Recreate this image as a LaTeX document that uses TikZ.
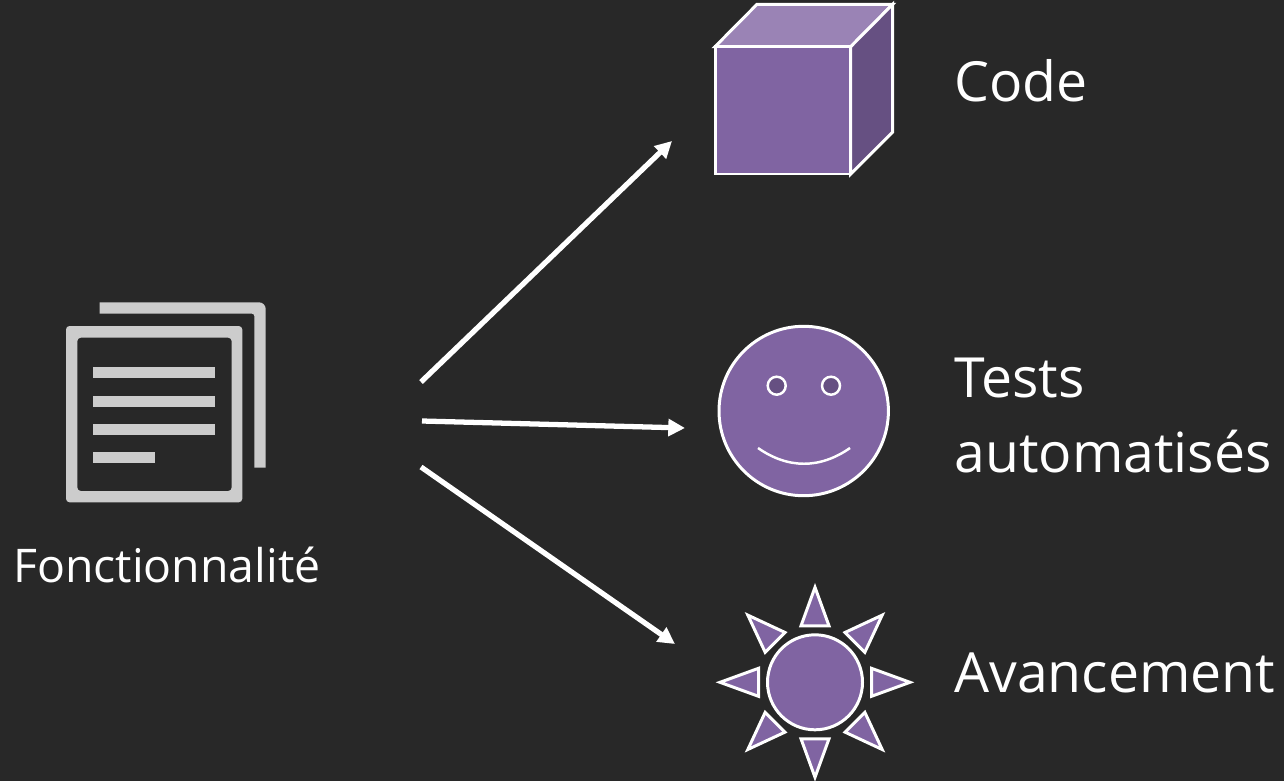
\documentclass[tikz,border=0pt]{standalone}
\usepackage{fontspec}
\setmainfont{Open Sans}
\usepackage{xcolor}
\usetikzlibrary{arrows.meta}
\definecolor{darkbg}{RGB}{40, 40, 40}
\definecolor{iconpurple}{RGB}{128, 100, 162}
\definecolor{toppurple}{RGB}{154, 131, 181}
\definecolor{sidepurple}{RGB}{102, 80, 130}
\definecolor{docgray}{RGB}{204, 204, 204}
\tikzset{
    shapeline/.style={draw=white, line width=1.7pt, line join=miter, fill=iconpurple},
    flowarrow/.style={draw=white, line width=3pt, -{Triangle[length=9.5pt,width=9.5pt]}},
    biglabel/.style={anchor=base west, inner sep=0pt, text=white, font=\fontsize{31.5}{38}\selectfont},
    smalllabel/.style={anchor=base west, inner sep=0pt, text=white, font=\fontsize{26.4}{32}\selectfont}
}
\begin{document}
\begin{tikzpicture}[x=0.02cm, y=-0.02cm]
    \fill[darkbg] (0,0) rectangle (1284,781);
    \useasboundingbox (0,0) rectangle (1284,781);

    % Document icon
    \fill[docgray] (99.7,302.3) -- (259,302.3) arc[start angle=90, end angle=0, x radius=6.7, y radius=-6.7]
        -- (265.7,467.7) -- (254.3,467.7) -- (254.3,316) arc[start angle=0, end angle=90, x radius=2.3, y radius=-2.3]
        -- (99.7,313.7) -- cycle;
    \fill[docgray, even odd rule, rounded corners=2pt] (66,326) rectangle (242.3,502.3)
        (77.3,337.7) rectangle (231.7,491);
    \foreach \y/\xend in {367/215.3, 395.7/215.3, 424/215.3, 451.7/154.5} {
        \fill[docgray] (93.3,\y) rectangle (\xend,\y+11.3);
    }
    \node[smalllabel] (feature) at (13,582) {Fonctionnalité};

    % Cube
    \draw[shapeline, fill=toppurple] (715,46.7) -- (757,4.3) -- (892.7,4.3) -- (850.7,46.7) -- cycle;
    \draw[shapeline, fill=sidepurple] (850.7,46.7) -- (892.7,4.3) -- (892.7,132) -- (850.7,174) -- cycle;
    \draw[shapeline] (715,46.7) rectangle (850.7,174);
    \node[biglabel] (code) at (954,101) {Code};

    % Smiley
    \draw[shapeline] (803.7,411) circle[radius=84.7];
    \foreach \x in {776.7, 831} {
        \draw[shapeline, fill=sidepurple, line width=1.4pt] (\x,385.7) circle[radius=9];
    }
    \draw[draw=white, line width=1.4pt] (758,448) .. controls (788,469) and (820,469) .. (850,448);
    \node[biglabel] (tests) at (954,397) {Tests};
    \node[biglabel] (auto) at (954,472.5) {automatisés};

    % Sun
    \draw[shapeline] (815,682.3) circle[radius=47.5];
    \foreach \a in {0,45,...,315} {
        \draw[shapeline, shift={(815,682.3)}, rotate=\a] (95,0) -- (56.5,14) -- (56.5,-14) -- cycle;
    }
    \node[biglabel] (progress) at (954,692.5) {Avancement};

    % Arrows
    \coordinate (startA) at (421,382);
    \coordinate (endA) at (672,141);
    \coordinate (startB) at (422,421);
    \coordinate (endB) at (685,428);
    \coordinate (startC) at (421,467);
    \coordinate (endC) at (675,644);
    \draw[flowarrow] (startA) -- (endA);
    \draw[flowarrow] (startB) -- (endB);
    \draw[flowarrow] (startC) -- (endC);
\end{tikzpicture}
\end{document}
